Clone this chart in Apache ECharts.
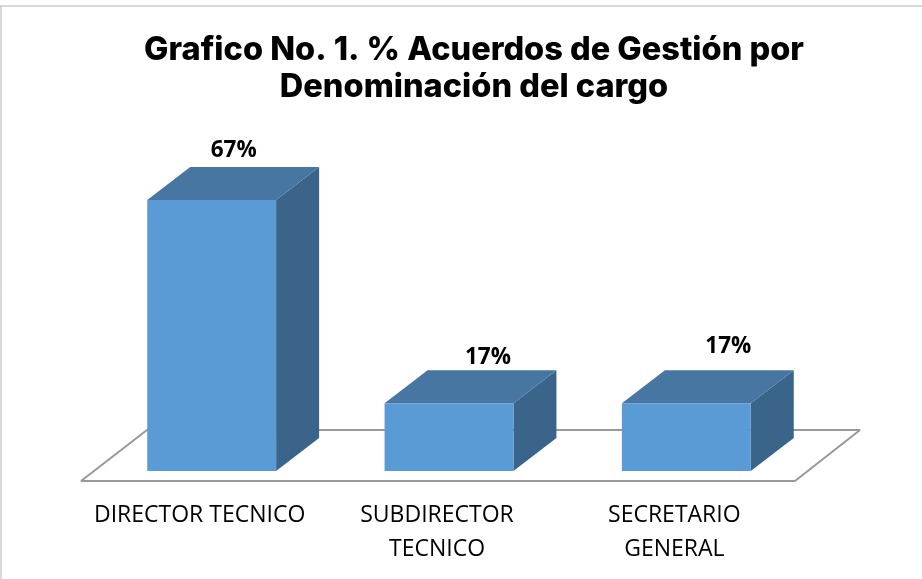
<!DOCTYPE html>
<html>
<head>
<meta charset="utf-8">
<script src="https://cdn.jsdelivr.net/npm/echarts@6/dist/echarts.min.js"></script>
<style>
html, body { margin: 0; padding: 0; background: #fff; }
#chart { width: 922px; height: 579px; }
</style>
</head>
<body>
<div id="chart"></div>
<script>
const categories = ['DIRECTOR TECNICO', 'SUBDIRECTOR\nTECNICO', 'SECRETARIO\nGENERAL'];
const values = [66.7, 16.7, 16.7];
const valueLabels = ['67%', '17%', '17%'];

const chart = echarts.init(document.getElementById('chart'), null, { renderer: 'canvas' });

const depthX = 43;
const depthY = 33;
// las etiquetas del original estan movidas a mano, cada una distinta
const labelShift = [[22, -16], [39, -13], [42, -24]];

// piso en perspectiva, sale de los limites del grid
function renderFloor(params, api) {
    const g = params.coordSys;
    const bottom = g.y + g.height;
    const points = [
        [g.x - 12, bottom + 10],
        [g.x + g.width - 10, bottom + 10],
        [g.x + g.width + 55, bottom - 41],
        [g.x + 54, bottom - 41]
    ];
    return {
        type: 'polygon',
        shape: { points: points },
        style: { fill: '#fff', stroke: '#999', lineWidth: 2, lineJoin: 'bevel' }
    };
}

function renderBar3d(params, api) {
    const top = api.coord([api.value(0), api.value(1)]);
    const base = api.coord([api.value(0), 0]);
    const w = api.size([1, 0])[0] * 0.543;
    const x0 = top[0] - w / 2;
    const x1 = top[0] + w / 2;
    const shift = labelShift[params.dataIndex];
    return {
        type: 'group',
        children: [
            {
                type: 'polygon',
                shape: { points: [[x1, top[1]], [x1 + depthX, top[1] - depthY], [x1 + depthX, base[1] - depthY], [x1, base[1]]] },
                style: { fill: '#3a6489' }
            },
            {
                type: 'polygon',
                shape: { points: [[x0, top[1]], [x0 + depthX, top[1] - depthY], [x1 + depthX, top[1] - depthY], [x1, top[1]]] },
                style: { fill: '#4876a3' }
            },
            {
                type: 'rect',
                shape: { x: x0, y: top[1], width: w, height: base[1] - top[1] },
                style: { fill: '#5b9bd5' }
            },
            {
                type: 'text',
                style: {
                    x: top[0] + shift[0],
                    y: top[1] - depthY + shift[1],
                    text: valueLabels[params.dataIndex],
                    align: 'center',
                    verticalAlign: 'middle',
                    fill: '#000',
                    font: 'bold 22.5px "Open Sans", sans-serif'
                }
            }
        ]
    };
}

chart.setOption({
    animation: false,
    backgroundColor: '#fff',
    title: {
        text: 'Grafico No. 1. % Acuerdos de Gestión por\nDenominación del cargo',
        left: 469,
        top: 27,
        textAlign: 'center',
        textStyle: {
            fontFamily: 'Inter, sans-serif',
            fontWeight: 800,
            fontSize: 32.5,
            lineHeight: 37,
            color: '#000'
        }
    },
    grid: { left: 93, top: 100, width: 712, height: 371 },
    xAxis: {
        type: 'category',
        data: categories,
        axisLine: { show: false },
        axisTick: { show: false },
        axisLabel: {
            interval: 0,
            margin: 27,
            color: '#000',
            fontFamily: '"Open Sans", sans-serif',
            fontSize: 23,
            lineHeight: 34,
            padding: [0, 24, 0, 0]
        }
    },
    yAxis: { type: 'value', min: 0, max: 91.3, show: false, splitLine: { show: false } },
    series: [
        {
            type: 'custom',
            silent: true,
            z: 1,
            renderItem: renderFloor,
            data: [0]
        },
        {
            type: 'custom',
            z: 2,
            renderItem: renderBar3d,
            encode: { x: 0, y: 1 },
            data: values.map((v, i) => [i, v])
        }
    ],
    graphic: [
        // marco del grafico en la imagen original
        { type: 'line', shape: { x1: 0, y1: 6, x2: 922, y2: 6 }, style: { stroke: '#b3b3b3', lineWidth: 1 } },
        { type: 'line', shape: { x1: 1, y1: 6, x2: 1, y2: 579 }, style: { stroke: '#b3b3b3', lineWidth: 1 } }
    ]
});
</script>
</body>
</html>
